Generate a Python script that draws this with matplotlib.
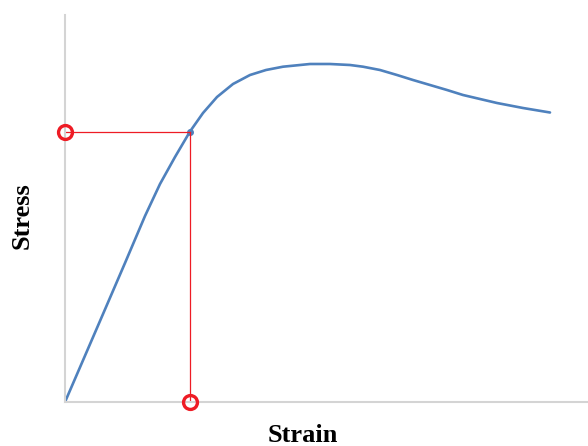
import matplotlib.pyplot as plt

# stress-strain curve (arbitrary units)
strain = [0, 35, 60, 80, 95, 110, 125, 138, 152, 168, 185, 201, 218, 245, 265,
          285, 298, 315, 332, 348, 365, 382, 398, 415, 432, 458, 485]
stress = [0, 81, 139, 186, 218, 245, 270.5, 289, 305, 318, 327, 332, 335.3, 338,
          338, 337, 335.3, 332, 327, 322, 317, 312, 307, 303, 299, 294, 289.5]

# point marked by the red guide lines
mark_strain = 125
mark_stress = 270.5

plt.rcParams['font.family'] = ['Liberation Serif', 'DejaVu Serif']

fig = plt.figure(figsize=(5.88, 4.46), dpi=100)
ax = fig.add_axes([65 / 588, 44 / 446, 523 / 588, 387 / 446])

ax.plot(strain, stress, color='#4f81bd', linewidth=1.9,
        solid_capstyle='round', solid_joinstyle='round')
ax.plot([mark_strain], [mark_stress], 'o', color='#4f81bd', markersize=4)

# red guides
ax.plot([0, mark_strain], [mark_stress, mark_stress], color='#ee1c25', linewidth=0.9)
ax.plot([mark_strain, mark_strain], [0, mark_stress], color='#ee1c25', linewidth=0.9)
ax.plot([0, mark_strain], [mark_stress, 0], 'o', markerfacecolor='none',
        markeredgecolor='#ee1c25', markersize=10, markeredgewidth=2.4,
        clip_on=False, zorder=5)

ax.set_xlim(0, 523)
ax.set_ylim(0, 387)
ax.set_xticks([])
ax.set_yticks([])
for s in ['top', 'right']:
    ax.spines[s].set_visible(False)
for s in ['left', 'bottom']:
    ax.spines[s].set_color('#d4d4d4')
    ax.spines[s].set_linewidth(1.5)

fig.text(303 / 588, 1 - 435 / 446, 'Strain', ha='center', va='center',
         fontsize=19, fontweight='bold')
fig.text(22 / 588, 1 - 216 / 446, 'Stress', ha='center', va='center',
         fontsize=19, fontweight='bold', rotation=90)

fig.savefig('out.png', dpi=100)
